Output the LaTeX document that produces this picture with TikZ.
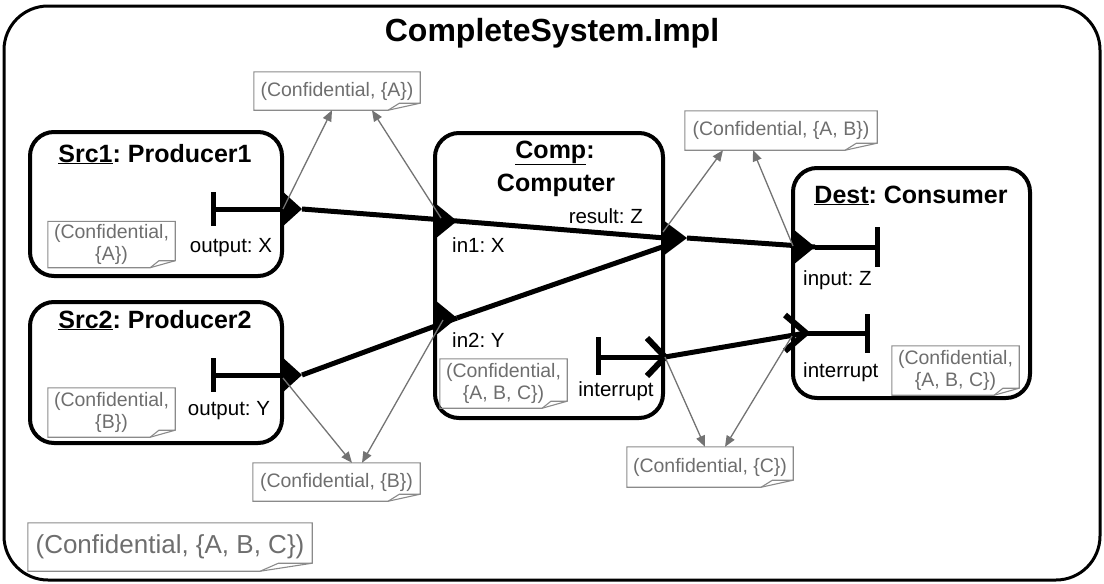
\documentclass[tikz,border=0pt]{standalone}
\usepackage{fontspec}
\setmainfont{Liberation Sans}
\usetikzlibrary{arrows.meta,calc}
\definecolor{notegray}{HTML}{6E6E6E}
\definecolor{noteedge}{HTML}{8A8A8A}
\definecolor{propgray}{HTML}{737373}
\frenchspacing
\tikzset{
  sysbox/.style={draw, line width=3pt, rounded corners=44pt},
  compbox/.style={draw, line width=4pt, rounded corners=24pt},
  systitle/.style={font=\fontsize{32}{38}\selectfont\bfseries, inner sep=0, anchor=base},
  comptitle/.style={font=\fontsize{25}{30}\selectfont\bfseries, inner sep=0, anchor=base},
  plabel/.style={font=\fontsize{20.5}{24}\selectfont, inner sep=0},
  notetext/.style={text=notegray, font=\fontsize{19.5}{22.5}\selectfont, align=center, inner sep=0},
  bignote/.style={notetext, font=\fontsize{26}{30}\selectfont},
  noteedge/.style={draw=noteedge, line width=1.1pt, line join=miter},
  conn/.style={line width=5pt},
  portline/.style={line width=5pt},
  eport/.style={line width=6pt, line join=miter, line cap=butt},
  prop/.style={draw=propgray, line width=1.3pt, -{Triangle[length=11pt,width=9pt]}},
}
% outline of a note with a folded lower right corner
\newcommand\notefold[3]{%
  \draw[noteedge] (#1.north west) -- (#1.north east) -- ([yshift=#3]#1.south east)
    -- ([xshift=-#2]#1.south east) -- (#1.south west) -- cycle;
  \draw[noteedge] ([xshift=-#2]#1.south east) -- ([xshift=-0.65*#2,yshift=#3]#1.south east)
    -- ([yshift=#3]#1.south east);
}
\begin{document}
\begin{tikzpicture}[x=1pt,y=-1pt]
\useasboundingbox (0,0) rectangle (1104,584);

% system frame
\draw[sysbox] (4,6) rectangle (1100,580);
\node[systitle] (systitle) at (552,41) {CompleteSystem.Impl};

% components
\draw[compbox] (30,132) rectangle (282,276);
\node[comptitle] (src1title) at (155,162) {\underline{Src1}: Producer1};
\draw[compbox] (30,302) rectangle (282,443);
\node[comptitle] (src2title) at (155,328) {\underline{Src2}: Producer2};
\draw[compbox] (435,133) rectangle (663,418);
\node[comptitle] (comptitle) at (555,158) {\underline{Comp}:};
\node[comptitle] (comptitleb) at (556,191) {Computer};
\draw[compbox] (793,168) rectangle (1030,398);
\node[comptitle] (desttitle) at (911,203) {\underline{Dest}: Consumer};

% port labels
\node[plabel, anchor=base] (l1) at (231,252) {output: X};
\node[plabel, anchor=base] (l2) at (229,415) {output: Y};
\node[plabel, anchor=base west] (l3) at (452,252) {in1: X};
\node[plabel, anchor=base east] (l4) at (643,223) {result: Z};
\node[plabel, anchor=base west] (l5) at (452,347) {in2: Y};
\node[plabel, anchor=base] (l6) at (616,396) {interrupt};
\node[plabel, anchor=base west] (l7) at (803,285) {input: Z};
\node[plabel, anchor=base west] (l8) at (803,377) {interrupt};

% port anchor points
\coordinate (s1o) at (302,209);
\coordinate (s2o) at (302,375);
\coordinate (cin1) at (457,221);
\coordinate (cin2) at (457,318);
\coordinate (cresa) at (665,238);
\coordinate (cresb) at (665,246);
\coordinate (cres) at (687,238);
\coordinate (din) at (815,247);
\coordinate (cint) at (665,357);
\coordinate (dint) at (806,333);

% connections
\draw[conn] (s1o) -- (cin1);
\draw[conn] (cin1) -- (cresa);
\draw[conn] (s2o) -- (cin2);
\draw[conn] (cin2) -- (cresb);
\draw[conn] (cres) -- (din);
\draw[conn] (cint) -- (dint);

% data ports
\draw[portline] (213,192) -- (213,226);
\draw[portline] (213,209) -- (283,209);
\fill (281,190) -- (s1o) -- (281,228) -- cycle;
\draw[portline] (213,358) -- (213,392);
\draw[portline] (213,375) -- (283,375);
\fill (281,356) -- (s2o) -- (281,394) -- cycle;
\fill (435,203) -- (cin1) -- (435,239) -- cycle;
\fill (435,300) -- (cin2) -- (435,336) -- cycle;
\fill (663,220) -- (cres) -- (663,256) -- cycle;
\fill (793,229) -- (din) -- (793,265) -- cycle;
\draw[portline] (din) -- (877,247);
\draw[portline] (877,227) -- (877,267);

% event ports
\draw[portline] (598,337) -- (598,375);
\draw[portline] (598,357) -- (662,357);
\draw[eport] (647,338) -- (cint) -- (647,376);
\draw[eport] (785,315) -- (dint) -- (785,351);
\draw[portline] (dint) -- (867,333);
\draw[portline] (867,314) -- (867,353);

% property notes
\node[notetext, minimum width=166pt, minimum height=38pt] (nA) at (337,91) {(Confidential, \{A\})};
\notefold{nA}{32pt}{7pt}
\node[notetext, minimum width=192pt, minimum height=39pt] (nAB) at (781,130.5) {(Confidential, \{A, B\})};
\notefold{nAB}{32pt}{7pt}
\node[notetext, minimum width=167pt, minimum height=38pt] (nB) at (336.5,482) {(Confidential, \{B\})};
\notefold{nB}{32pt}{7pt}
\node[notetext, minimum width=166pt, minimum height=40pt] (nC) at (710,467) {(Confidential, \{C\})};
\notefold{nC}{32pt}{7pt}
\node[bignote, minimum width=284pt, minimum height=48pt] (nSys) at (170,547) {(Confidential, \{A, B, C\})};
\notefold{nSys}{52pt}{8pt}
\node[notetext, minimum width=127pt, minimum height=46pt] (nS1) at (111.5,244.5) {(Confidential,\\\{A\})};
\notefold{nS1}{25pt}{7pt}
\node[notetext, minimum width=127pt, minimum height=49pt] (nS2) at (111.5,412.5) {(Confidential,\\\{B\})};
\notefold{nS2}{25pt}{7pt}
\node[notetext, minimum width=127pt, minimum height=49pt] (nComp) at (503.5,383.5) {(Confidential,\\\{A, B, C\})};
\notefold{nComp}{25pt}{7pt}
\node[notetext, minimum width=127pt, minimum height=49pt] (nDest) at (955.5,370.5) {(Confidential,\\\{A, B, C\})};
\notefold{nDest}{25pt}{7pt}

% property associations
\draw[prop] (283,209) -- ([xshift=-5pt]nA.south);
\draw[prop] (441,218) -- ([xshift=35pt]nA.south);
\draw[prop] (663,232) -- ([xshift=-58pt]nAB.south);
\draw[prop] (793,246) -- ([xshift=-28pt]nAB.south);
\draw[prop] (283,378) -- ([xshift=15.5pt]nB.north);
\draw[prop] (443,320) -- ([xshift=25.5pt]nB.north);
\draw[prop] (cint) -- ([xshift=-5pt]nC.north);
\draw[prop] (792,336) -- ([xshift=15pt]nC.north);
\end{tikzpicture}
\end{document}
